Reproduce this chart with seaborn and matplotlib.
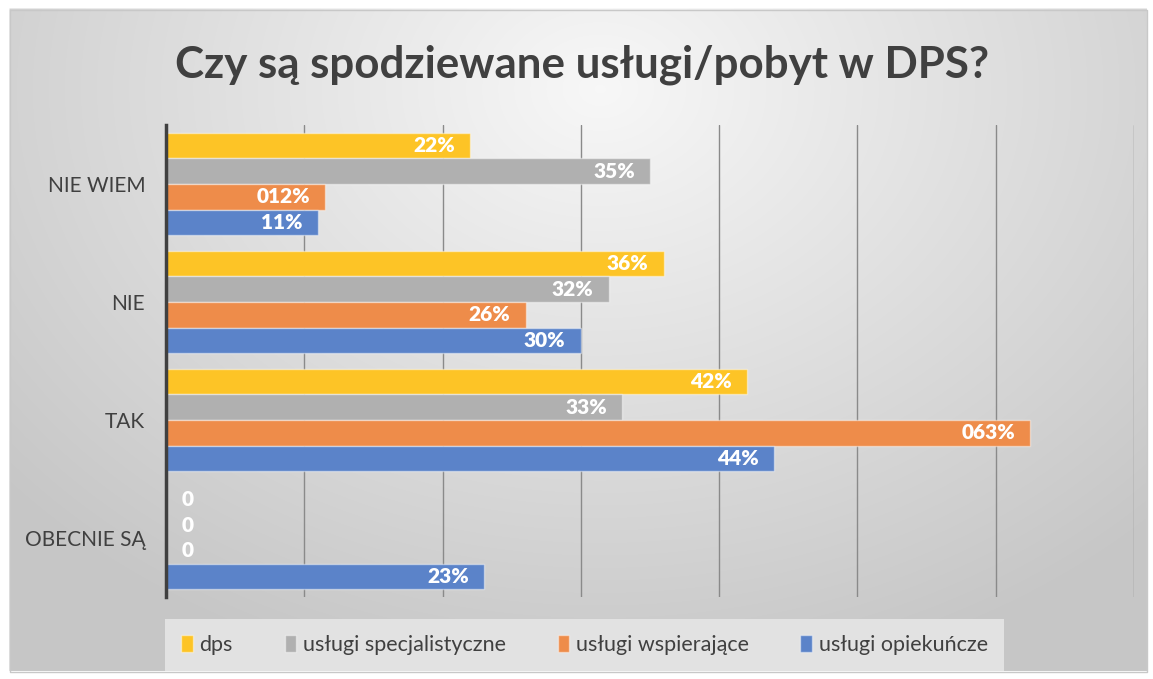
import numpy as np
import pandas as pd
import matplotlib
matplotlib.use("Agg")
import matplotlib.pyplot as plt
import seaborn as sns

categories = ["NIE WIEM", "NIE", "TAK", "OBECNIE SĄ"]
series = ["dps", "usługi specjalistyczne", "usługi wspierające", "usługi opiekuńcze"]
dps = [22, 36, 42, 0]
specjalistyczne = [35, 32, 33, 0]
wspierajace = [11.5, 26, 62.5, 0]
opiekuncze = [11, 30, 44, 23]
value_labels = [
    ["22%", "36%", "42%", "0"],
    ["35%", "32%", "33%", "0"],
    ["012%", "26%", "063%", "0"],
    ["11%", "30%", "44%", "23%"],
]
colors = ["#fdc426", "#b0b0b0", "#ee8c4a", "#5b83c9"]

rows = []
for name, vals in zip(series, [dps, specjalistyczne, wspierajace, opiekuncze]):
    for cat, v in zip(categories, vals):
        rows.append({"kategoria": cat, "seria": name, "wartosc": v})
df = pd.DataFrame(rows)

sns.set_style("white")
plt.rcParams["font.family"] = ["Lato", "DejaVu Sans"]

fig = plt.figure(figsize=(11.53, 6.79), dpi=100)

# background: white margin + soft radial grey gradient
bg = fig.add_axes([0, 0, 1, 1], zorder=-10)
h, w = 679, 1153
yy, xx = np.mgrid[0:h, 0:w]
d = np.sqrt(((xx - 600) / 900.0) ** 2 + ((yy - 90) / 700.0) ** 2)
shade = np.clip(0.97 - 0.22 * d, 0.78, 0.97)
img = np.ones((h, w, 3))
x0, x1, y0, y1 = 10, 1147, 10, 672
img[y0:y1, x0:x1, :] = shade[y0:y1, x0:x1, None]
bg.imshow(img, aspect="auto", interpolation="bilinear")
bg.plot([x0, x1, x1, x0, x0], [y0, y0, y1, y1, y0], color="#c8c8c8", lw=1)
bg.set_xlim(0, w)
bg.set_ylim(h, 0)
bg.axis("off")

ax = fig.add_axes([0.144, 0.1208, 0.8395, 0.695])
ax.patch.set_alpha(0)
sns.barplot(data=df, y="kategoria", x="wartosc", hue="seria", order=categories,
            hue_order=series, palette=colors, orient="h", width=0.87,
            edgecolor=(1, 1, 1, 0.45), linewidth=1, saturation=1, ax=ax)

for cont, labs in zip(ax.containers, value_labels):
    for bar, lab in zip(cont, labs):
        yc = bar.get_y() + bar.get_height() / 2
        wdt = bar.get_width()
        if wdt > 0:
            ax.annotate(lab, (wdt, yc), xytext=(-11, 0), textcoords="offset points",
                        ha="right", va="center", color="white", fontsize=15,
                        fontweight="heavy")
        else:
            ax.annotate(lab, (0, yc), xytext=(11, 0), textcoords="offset points",
                        ha="left", va="center", color="white", fontsize=15,
                        fontweight="heavy")

ax.set_xlim(0, 70)
ax.set_xticks(np.arange(0, 71, 10))
ax.set_xticklabels([])
ax.tick_params(axis="x", length=0)
ax.tick_params(axis="y", length=0, pad=15, labelsize=15, labelcolor="#404040")
ax.grid(axis="x", color="#8a8a8a", lw=1)
ax.set_axisbelow(True)
ax.set_xlabel("")
ax.set_ylabel("")
for s in ["top", "right", "bottom"]:
    ax.spines[s].set_visible(False)
ax.spines["left"].set_color("#404040")
ax.spines["left"].set_linewidth(2.5)
ax.spines["left"].set_zorder(5)

handles, labels = ax.get_legend_handles_labels()
ax.get_legend().remove()
fig.legend(handles, labels, loc="center", bbox_to_anchor=(0.507, 0.05), ncol=4,
           frameon=True, facecolor="#e2e2e2", edgecolor="none", framealpha=1,
           fancybox=False, fontsize=15.5, labelcolor="#404040",
           handlelength=0.55, handleheight=0.8, handletextpad=0.3,
           columnspacing=2.4, borderpad=0.75)

fig.text(0.505, 0.905, "Czy są spodziewane usługi/pobyt w DPS?", ha="center",
         va="center", fontsize=31.6, fontweight="bold", color="#404040")

fig.savefig("out.png", dpi=100)
